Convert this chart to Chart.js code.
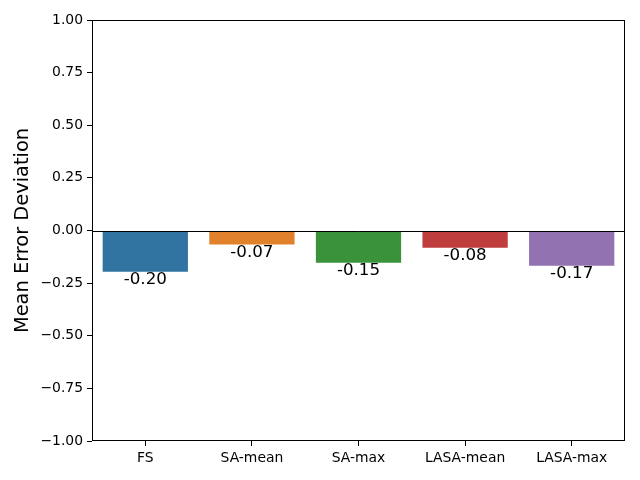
<!DOCTYPE html>
<html><head><meta charset="utf-8">
<script src="https://cdn.jsdelivr.net/npm/chart.js@4"></script>
<style>html,body{margin:0;padding:0;background:#fff;}canvas{display:block;}</style>
</head><body>
<canvas id="c" width="640" height="480"></canvas>
<script>
const categories = ["FS", "SA-mean", "SA-max", "LASA-mean", "LASA-max"];
const values = [-0.196, -0.066, -0.153, -0.082, -0.167];
const barColors = ["#3274a1", "#e1812c", "#3a923a", "#c03d3e", "#9372b2"];
const yTicks = [-1, -0.75, -0.5, -0.25, 0, 0.25, 0.5, 0.75, 1];
const yLabel = "Mean Error Deviation";
const FONT = "'DejaVu Sans', sans-serif";
const fmt = v => (v < 0 ? "\u2212" : "") + Math.abs(v).toFixed(2);

const deco = {
  id: 'deco',
  afterDatasetsDraw(chart) {
    const ctx = chart.ctx, a = chart.chartArea, y = chart.scales.y;
    ctx.save();
    const y0 = Math.round(y.getPixelForValue(0)) + 0.5;
    ctx.strokeStyle = '#000'; ctx.lineWidth = 1;
    ctx.beginPath(); ctx.moveTo(a.left, y0); ctx.lineTo(a.right, y0); ctx.stroke();
    const meta = chart.getDatasetMeta(0);
    ctx.fillStyle = '#000';
    ctx.font = "16.7px " + FONT;
    ctx.textAlign = 'center'; ctx.textBaseline = 'top';
    meta.data.forEach((bar, i) => {
      const v = values[i];
      ctx.fillText((v < 0 ? "-" : "") + Math.abs(v).toFixed(2), bar.x, bar.y);
    });
    ctx.strokeStyle = '#000'; ctx.lineWidth = 1;
    ctx.strokeRect(Math.round(a.left) + 0.5, Math.round(a.top) + 0.5, Math.round(a.right - a.left) - 1, Math.round(a.bottom - a.top) - 1);
    ctx.font = "19.4px " + FONT;
    ctx.textAlign = 'center'; ctx.textBaseline = 'middle';
    ctx.translate(23, (a.top + a.bottom) / 2);
    ctx.rotate(-Math.PI / 2);
    ctx.fillText(yLabel, 0, 0);
    ctx.restore();
  }
};

new Chart(document.getElementById('c'), {
  type: 'bar',
  data: {
    labels: categories,
    datasets: [{ data: values, backgroundColor: barColors, borderWidth: 0, barPercentage: 0.8, categoryPercentage: 1.0 }]
  },
  options: {
    responsive: false, animation: false,
    layout: { padding: { top: 20, right: 15, left: 0, bottom: 0 } },
    plugins: { legend: { display: false }, tooltip: { enabled: false } },
    scales: {
      x: {
        grid: { display: true, drawOnChartArea: false, drawTicks: true, tickLength: 5, tickColor: '#000', offset: false },
        border: { display: false },
        ticks: { color: '#000', font: { family: FONT, size: 13.9 }, padding: 4, maxRotation: 0 },
        afterFit(s) { s.height = 39; }
      },
      y: {
        min: -1, max: 1,
        afterBuildTicks(s) { s.ticks = yTicks.map(v => ({ value: v })); },
        grid: { display: true, drawOnChartArea: false, drawTicks: true, tickLength: 5, tickColor: '#000' },
        border: { display: false },
        ticks: { color: '#000', font: { family: FONT, size: 13.9 }, padding: 4, callback: v => fmt(v) },
        afterFit(s) { s.width = 92; }
      }
    }
  },
  plugins: [deco]
});
</script>
</body></html>
